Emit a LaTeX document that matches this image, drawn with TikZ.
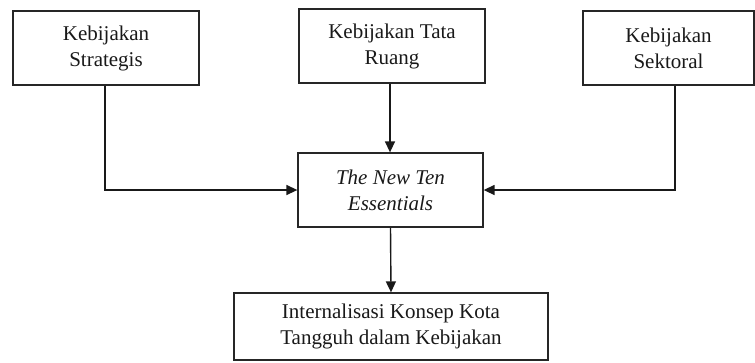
\documentclass[tikz,border=0pt]{standalone}
\usepackage{fontspec}
\setmainfont{Liberation Serif}
\usetikzlibrary{arrows.meta}
\begin{document}
\begin{tikzpicture}[x=1pt,y=-1pt,
  boxnode/.style={draw=black!85, line width=1.3pt, rectangle, align=center, inner sep=0pt,
    font=\fontsize{21}{26}\selectfont, text=black!90},
  arr/.style={draw=black!90, line width=1.4pt, -{Triangle[length=11pt,width=10pt]}}]
\useasboundingbox (0,0) rectangle (755,362);
\node[boxnode, minimum width=186, minimum height=74] (b1) at (106,48) {Kebijakan\\Strategis};
\node[boxnode, minimum width=186, minimum height=74] (b2) at (392,46) {Kebijakan Tata\\Ruang};
\node[boxnode, minimum width=171, minimum height=74] (b3) at (668.5,48) {Kebijakan\\Sektoral};
\node[boxnode, minimum width=185, minimum height=74] (c) at (390.5,190) {\itshape The New Ten\\\itshape Essentials};
\node[boxnode, minimum width=314, minimum height=67] (d) at (391,326.5) {Internalisasi Konsep Kota\\Tangguh dalam Kebijakan};
\draw[arr] ([xshift=-1pt]b1.south) |- (c.west);
\draw[arr] ([xshift=6.5pt]b3.south) |- (c.east);
\draw[arr] ([xshift=-2pt]b2.south) -- ([xshift=-0.5pt]c.north);
\draw[arr] (c.south) -- (d.north);
\end{tikzpicture}
\end{document}
